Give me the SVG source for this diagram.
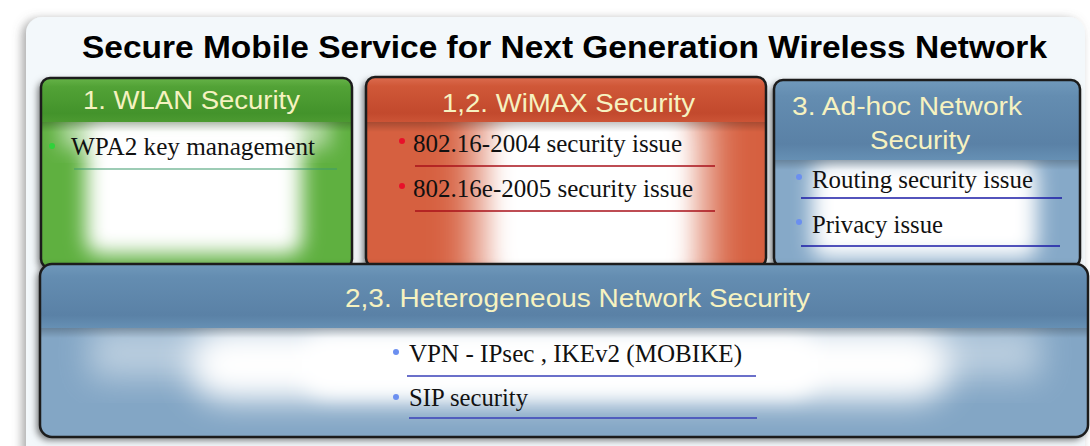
<svg xmlns="http://www.w3.org/2000/svg" width="1090" height="446" viewBox="0 0 1090 446">
  <defs>
    <style>
      .title{font-family:"Liberation Sans",Arial,sans-serif;font-weight:bold;font-size:32px;fill:#000;text-anchor:middle}
      .hdr{font-family:"Liberation Sans",Arial,sans-serif;font-size:26px;fill:#f6f2c0;text-anchor:middle}
      .item{font-family:"Liberation Serif","Times New Roman",serif;font-size:25px;fill:#111}
      .frame{fill:none;stroke:#1c1c1c;stroke-width:2.5}
      .glow{fill:#fff}
      .hilite{stroke:#ffffff;stroke-width:2;stroke-opacity:0.55;stroke-linecap:round}
    </style>
    <filter id="panelShadow" x="-5%" y="-5%" width="110%" height="110%">
      <feDropShadow dx="-4" dy="2" stdDeviation="5" flood-color="#666" flood-opacity="0.55"/>
    </filter>
    <filter id="boxShadow" x="-10%" y="-10%" width="120%" height="125%">
      <feDropShadow dx="-3" dy="3" stdDeviation="3.5" flood-color="#000" flood-opacity="0.55"/>
    </filter>
    <filter id="blur10" x="-50%" y="-50%" width="200%" height="200%"><feGaussianBlur stdDeviation="10"/></filter>
    <filter id="blur16" x="-50%" y="-50%" width="200%" height="200%"><feGaussianBlur stdDeviation="16"/></filter>
    <filter id="blur22" x="-50%" y="-50%" width="200%" height="200%"><feGaussianBlur stdDeviation="22"/></filter>
    <filter id="blur1"><feGaussianBlur stdDeviation="1"/></filter>

    <linearGradient id="hdrGreen" x1="0" y1="0" x2="0" y2="1">
      <stop offset="0" stop-color="#66b348"/>
      <stop offset="0.2" stop-color="#52a236"/>
      <stop offset="0.8" stop-color="#43932b"/>
      <stop offset="1" stop-color="#4c9a31"/>
    </linearGradient>
    <linearGradient id="hdrRed" x1="0" y1="0" x2="0" y2="1">
      <stop offset="0" stop-color="#dc6c4f"/>
      <stop offset="0.2" stop-color="#d05838"/>
      <stop offset="0.8" stop-color="#c2492d"/>
      <stop offset="1" stop-color="#cc5436"/>
    </linearGradient>
    <linearGradient id="hdrBlue" x1="0" y1="0" x2="0" y2="1">
      <stop offset="0" stop-color="#7099bb"/>
      <stop offset="0.2" stop-color="#648db1"/>
      <stop offset="0.8" stop-color="#5a81a6"/>
      <stop offset="1" stop-color="#6690b4"/>
    </linearGradient>
    <linearGradient id="underHdr" x1="0" y1="0" x2="0" y2="1">
      <stop offset="0" stop-color="#000" stop-opacity="0.22"/>
      <stop offset="1" stop-color="#000" stop-opacity="0"/>
    </linearGradient>

    <clipPath id="clipWlan"><rect x="42" y="79" width="309" height="188" rx="8"/></clipPath>
    <clipPath id="clipWimax"><rect x="367" y="78" width="398" height="188" rx="8"/></clipPath>
    <clipPath id="clipAdhoc"><rect x="775" y="81" width="304" height="185" rx="8"/></clipPath>
    <clipPath id="clipHetero"><rect x="41" y="265" width="1046" height="171" rx="12"/></clipPath>
  </defs>

  <rect width="1090" height="446" fill="#ffffff"/>

  <!-- outer panel -->
  <rect x="26" y="17" width="1059" height="446" rx="16" fill="#f3f8fb" filter="url(#panelShadow)"/>

  <text class="title" x="564.5" y="58" textLength="965" lengthAdjust="spacingAndGlyphs">Secure Mobile Service for Next Generation Wireless Network</text>

  <!-- 1. WLAN -->
  <g id="wlan">
    <rect x="41" y="78" width="311" height="190" rx="9" fill="#5fb041" filter="url(#boxShadow)"/>
    <g clip-path="url(#clipWlan)">
      <rect class="glow" x="86" y="116" width="216" height="138" rx="14" filter="url(#blur10)"/>
      <rect class="glow" x="60" y="118" width="270" height="30" opacity="0.55" filter="url(#blur10)"/>
      <rect x="41" y="122" width="311" height="10" fill="url(#underHdr)"/>
    </g>
    <path d="M41,87 a9,9 0 0 1 9,-9 h293 a9,9 0 0 1 9,9 v35 h-311 z" fill="url(#hdrGreen)"/>
    <line class="hilite" x1="58" y1="82" x2="336" y2="82" filter="url(#blur1)"/>
    <rect class="frame" x="41" y="78" width="311" height="190" rx="9"/>
    <text class="hdr" x="191.5" y="109" textLength="217" lengthAdjust="spacingAndGlyphs">1. WLAN Security</text>
    <circle cx="52" cy="146" r="3" fill="#2fd23a"/>
    <text class="item" x="71" y="155" textLength="244" lengthAdjust="spacingAndGlyphs">WPA2 key management</text>
    <line x1="74" y1="169" x2="337" y2="169" stroke="#3c9a6c" stroke-width="1.2"/>
  </g>

  <!-- 1,2. WiMAX -->
  <g id="wimax">
    <rect x="366" y="77" width="400" height="190" rx="9" fill="#d6613f" filter="url(#boxShadow)"/>
    <g clip-path="url(#clipWimax)">
      <rect class="glow" x="478" y="100" width="226" height="200" filter="url(#blur22)"/>
      <rect class="glow" x="505" y="110" width="175" height="180" filter="url(#blur10)"/>
      <rect x="366" y="122" width="400" height="10" fill="url(#underHdr)"/>
    </g>
    <path d="M366,86 a9,9 0 0 1 9,-9 h382 a9,9 0 0 1 9,9 v36 h-400 z" fill="url(#hdrRed)"/>
    <line class="hilite" x1="384" y1="81" x2="748" y2="81" filter="url(#blur1)"/>
    <rect class="frame" x="366" y="77" width="400" height="190" rx="9"/>
    <text class="hdr" x="568.5" y="112" textLength="253" lengthAdjust="spacingAndGlyphs">1,2. WiMAX Security</text>
    <circle cx="402" cy="141" r="3" fill="#e8102a"/>
    <text class="item" x="413" y="152" textLength="269" lengthAdjust="spacingAndGlyphs">802.16-2004 security issue</text>
    <line x1="415" y1="166" x2="715" y2="166" stroke="#a8101a" stroke-width="1.6"/>
    <circle cx="402" cy="186" r="3" fill="#e8102a"/>
    <text class="item" x="413" y="197" textLength="280" lengthAdjust="spacingAndGlyphs">802.16e-2005 security issue</text>
    <line x1="415" y1="211" x2="715" y2="211" stroke="#a8101a" stroke-width="1.6"/>
  </g>

  <!-- 3. Ad-hoc -->
  <g id="adhoc">
    <rect x="774" y="80" width="306" height="187" rx="9" fill="#86a9c8" filter="url(#boxShadow)"/>
    <g clip-path="url(#clipAdhoc)">
      <rect class="glow" x="812" y="160" width="225" height="98" rx="14" filter="url(#blur10)"/>
      <rect x="774" y="160" width="306" height="10" fill="url(#underHdr)"/>
    </g>
    <path d="M774,89 a9,9 0 0 1 9,-9 h288 a9,9 0 0 1 9,9 v71 h-306 z" fill="url(#hdrBlue)"/>
    <line class="hilite" x1="792" y1="84" x2="1062" y2="84" filter="url(#blur1)"/>
    <rect class="frame" x="774" y="80" width="306" height="187" rx="9"/>
    <text class="hdr" x="907" y="115" textLength="230" lengthAdjust="spacingAndGlyphs">3. Ad-hoc Network</text>
    <text class="hdr" x="920" y="149" textLength="100" lengthAdjust="spacingAndGlyphs">Security</text>
    <circle cx="799" cy="177" r="3" fill="#6b8ff0"/>
    <text class="item" x="812" y="188" textLength="221" lengthAdjust="spacingAndGlyphs">Routing security issue</text>
    <line x1="801" y1="198" x2="1062" y2="198" stroke="#1a1aa6" stroke-width="1.4"/>
    <circle cx="799" cy="222" r="3" fill="#6b8ff0"/>
    <text class="item" x="812" y="233" textLength="131" lengthAdjust="spacingAndGlyphs">Privacy issue</text>
    <line x1="801" y1="246" x2="1060" y2="246" stroke="#1a1aa6" stroke-width="1.4"/>
  </g>

  <!-- 2,3. Heterogeneous -->
  <g id="hetero">
    <rect x="40" y="264" width="1048" height="173" rx="12" fill="#83a6c5" filter="url(#boxShadow)"/>
    <g clip-path="url(#clipHetero)">
      <rect class="glow" x="90" y="328" width="950" height="50" opacity="0.45" filter="url(#blur16)"/>
      <rect class="glow" x="190" y="330" width="760" height="70" rx="35" filter="url(#blur16)"/>
      <rect class="glow" x="300" y="336" width="520" height="60" rx="30" filter="url(#blur10)"/>
      <rect x="40" y="328" width="1048" height="10" fill="url(#underHdr)"/>
    </g>
    <path d="M40,276 a12,12 0 0 1 12,-12 h1024 a12,12 0 0 1 12,12 v52 h-1048 z" fill="url(#hdrBlue)"/>
    <line class="hilite" x1="60" y1="268" x2="1068" y2="268" filter="url(#blur1)"/>
    <rect class="frame" x="40" y="264" width="1048" height="173" rx="12"/>
    <text class="hdr" x="577.5" y="307" textLength="465" lengthAdjust="spacingAndGlyphs">2,3. Heterogeneous Network Security</text>
    <circle cx="396" cy="352" r="3" fill="#6b8ff0"/>
    <text class="item" x="409" y="362" textLength="333" lengthAdjust="spacingAndGlyphs">VPN - IPsec , IKEv2 (MOBIKE)</text>
    <line x1="407" y1="376" x2="756" y2="376" stroke="#3a40b8" stroke-width="1.4"/>
    <circle cx="396" cy="397" r="3" fill="#6b8ff0"/>
    <text class="item" x="409" y="406" textLength="119" lengthAdjust="spacingAndGlyphs">SIP security</text>
    <line x1="409" y1="418" x2="757" y2="418" stroke="#3a40b8" stroke-width="1.4"/>
  </g>

  <g id="connectors"/>
</svg>
